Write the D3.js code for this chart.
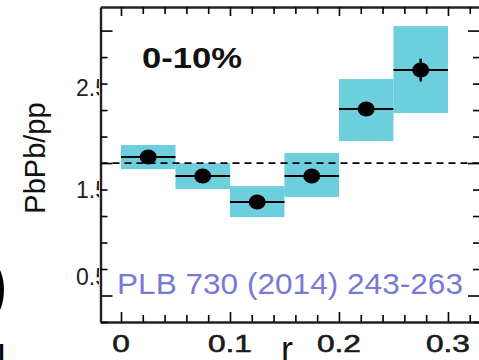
<!DOCTYPE html>
<html>
<head>
<meta charset="utf-8">
<script src="https://cdn.jsdelivr.net/npm/d3@7"></script>
<style>
  body { margin: 0; background: #fff; }
  svg { display: block; font-family: "Liberation Sans", Arial, Helvetica, sans-serif; }
</style>
</head>
<body>
<div id="chart"></div>
<script>
// bins in r, PbPb/pp ratio with stat and syst errors
const binLow = [0.00, 0.05, 0.10, 0.15, 0.20, 0.25];
const binHigh = [0.05, 0.10, 0.15, 0.20, 0.25, 0.30];
const ratio = [1.023, 0.951, 0.853, 0.951, 1.204, 1.351];
const statErr = [0.010, 0.010, 0.010, 0.010, 0.015, 0.043];
const sysLow = [0.977, 0.902, 0.796, 0.872, 1.083, 1.189];
const sysHigh = [1.068, 1.000, 0.913, 1.038, 1.317, 1.517];

const xTickLabels = ["0", "0.1", "0.2", "0.3"];
const xTickValues = [0, 0.1, 0.2, 0.3];
const yLabelText = ["0.5", "1.5", "2.5"];
const yLabelPos = [0.570, 0.898, 1.283];

const width = 479, height = 360;
const mLeft = 100.5, mRight = 480, mTop = 7, mBottom = 322;

const svg = d3.select("#chart").append("svg")
    .attr("width", width)
    .attr("height", height);

const x = d3.scaleLinear().domain([-0.0188, 0.3294]).range([mLeft, mRight]);
const y = d3.scaleLinear().domain([0.4, 1.589]).range([mBottom, mTop]);

const bins = binLow.map((d, i) => ({
    lo: d, hi: binHigh[i], v: ratio[i], s: statErr[i], sl: sysLow[i], sh: sysHigh[i]
}));

// systematic boxes
svg.append("g").selectAll("rect")
    .data(bins)
    .enter()
    .append("rect")
    .attr("x", d => x(d.lo))
    .attr("y", d => y(d.sh))
    .attr("width", d => x(d.hi) - x(d.lo))
    .attr("height", d => y(d.sl) - y(d.sh))
    .attr("fill", "#6dcedd");

// reference line at 1
svg.append("line")
    .attr("x1", mLeft).attr("x2", mRight)
    .attr("y1", y(1)).attr("y2", y(1))
    .attr("stroke", "#000")
    .attr("stroke-width", 1.8)
    .attr("stroke-dasharray", "7,5");

// bin width bars
svg.append("g").selectAll("line")
    .data(bins)
    .enter()
    .append("line")
    .attr("x1", d => x(d.lo)).attr("x2", d => x(d.hi))
    .attr("y1", d => y(d.v)).attr("y2", d => y(d.v))
    .attr("stroke", "#000").attr("stroke-width", 2);

// stat errors
svg.append("g").selectAll("line")
    .data(bins)
    .enter()
    .append("line")
    .attr("x1", d => x((d.lo + d.hi) / 2)).attr("x2", d => x((d.lo + d.hi) / 2))
    .attr("y1", d => y(d.v + d.s)).attr("y2", d => y(d.v - d.s))
    .attr("stroke", "#000").attr("stroke-width", 2.5);

// markers
svg.append("g").selectAll("ellipse")
    .data(bins)
    .enter()
    .append("ellipse")
    .attr("cx", d => x((d.lo + d.hi) / 2))
    .attr("cy", d => y(d.v))
    .attr("rx", 8.5)
    .attr("ry", 7.5)
    .attr("fill", "#000");

// axes: ticks pointing inward, long ones at major values
const xMinor = d3.range(0, 0.33, 0.02);
const yMinor = d3.range(0.4, 1.55, 0.1);
const isMajorX = v => xTickValues.some(t => Math.abs(t - v) < 1e-6);
const isMajorY = v => Math.abs(v * 2 - Math.round(v * 2)) < 1e-6;

const gBottom = svg.append("g")
    .attr("transform", `translate(0, ${mBottom})`)
    .call(d3.axisBottom(x).tickValues(xMinor).tickSize(0).tickFormat(""));
gBottom.selectAll(".tick line").attr("y2", d => isMajorX(d) ? -10 : -7).attr("stroke-width", 1.6);

const gTop = svg.append("g")
    .attr("transform", `translate(0, ${mTop})`)
    .call(d3.axisTop(x).tickValues(xMinor).tickSize(0).tickFormat(""));
gTop.selectAll(".tick line").attr("y2", d => isMajorX(d) ? 9 : 7).attr("stroke-width", 1.6);

const gLeft = svg.append("g")
    .attr("transform", `translate(${mLeft}, 0)`)
    .call(d3.axisLeft(y).tickValues(yMinor).tickSize(0).tickFormat(""));
gLeft.selectAll(".tick line").attr("x2", d => isMajorY(d) ? 12 : 7).attr("stroke-width", 1.6);

const gRight = svg.append("g")
    .attr("transform", `translate(${mRight}, 0)`)
    .call(d3.axisRight(y).tickValues(yMinor).tickSize(0).tickFormat(""));
gRight.selectAll(".tick line").attr("x2", d => isMajorY(d) ? -12 : -7).attr("stroke-width", 1.6);

svg.selectAll(".domain").attr("stroke", "#222").attr("stroke-width", 2.4);

// x tick labels (stretched horizontally like the picture)
svg.append("g").selectAll("text")
    .data(xTickValues)
    .enter()
    .append("text")
    .attr("transform", d => `translate(${x(d)}, 352) scale(1.32, 1)`)
    .attr("text-anchor", "middle")
    .attr("font-size", 24)
    .attr("fill", "#1a1a1a")
    .attr("stroke", "#1a1a1a")
    .attr("stroke-width", 0.6)
    .text((d, i) => xTickLabels[i]);

// y tick labels, cut by the axis
svg.append("clipPath").attr("id", "ylab-clip")
    .append("rect").attr("x", 0).attr("y", 0).attr("width", mLeft - 1.5).attr("height", height);
svg.append("g").attr("clip-path", "url(#ylab-clip)")
    .selectAll("text")
    .data(yLabelPos)
    .enter()
    .append("text")
    .attr("x", 76)
    .attr("y", d => y(d))
    .attr("dy", "0.36em")
    .attr("font-size", 23)
    .attr("fill", "#222")
    .text((d, i) => yLabelText[i]);

// axis titles
svg.append("text")
    .attr("transform", "translate(45, 158) rotate(-90)")
    .attr("text-anchor", "middle")
    .attr("font-size", 29)
    .attr("fill", "#111")
    .text("PbPb/pp");

svg.append("text")
    .attr("x", 281).attr("y", 362)
    .attr("font-size", 36)
    .attr("fill", "#111")
    .text("r");

svg.append("text")
    .attr("x", 142).attr("y", 68)
    .attr("font-size", 29)
    .attr("font-weight", "bold")
    .attr("textLength", 100)
    .attr("lengthAdjust", "spacingAndGlyphs")
    .attr("fill", "#111")
    .text("0-10%");

svg.append("text")
    .attr("x", 117).attr("y", 294)
    .attr("font-size", 30)
    .attr("textLength", 346)
    .attr("lengthAdjust", "spacingAndGlyphs")
    .attr("fill", "#7878db")
    .text("PLB 730 (2014) 243-263");

// fragments of neighbouring text at the left edge
svg.append("text")
    .attr("x", -15).attr("y", 308)
    .attr("font-size", 70)
    .attr("fill", "#000")
    .text(")");

svg.append("text")
    .attr("x", -2.5).attr("y", 371)
    .attr("font-size", 36)
    .attr("fill", "#000")
    .text("l");
</script>
</body>
</html>
